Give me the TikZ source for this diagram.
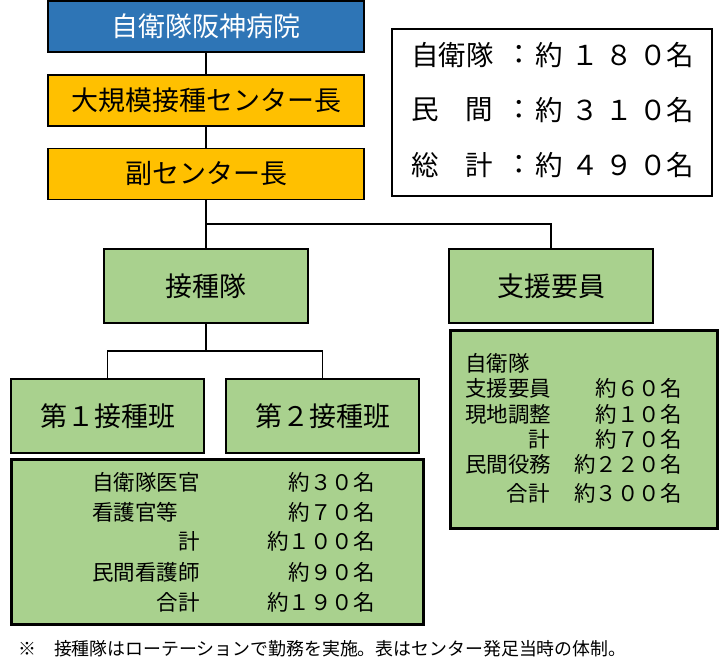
\documentclass[tikz,border=0pt]{standalone}
\usepackage{fontspec}
\setmainfont{Noto Sans CJK JP}
\definecolor{hblue}{HTML}{2E75B6}
\definecolor{horange}{HTML}{FFC000}
\definecolor{hgreen}{HTML}{A9D18E}
\tikzset{
  box/.style={draw=black, line width=1.5pt, inner sep=0pt, font=\fontsize{27}{32}\selectfont},
  bluebox/.style={box, fill=hblue, text=white, minimum width=316pt, minimum height=51pt},
  orangebox/.style={box, fill=horange, minimum width=316pt, minimum height=51pt},
  greenbox/.style={box, fill=hgreen},
  detbox/.style={draw=black, line width=3pt, fill=hgreen, inner sep=0pt},
  legbox/.style={draw=black, line width=1.5pt, fill=white, inner sep=0pt},
  conn/.style={draw=black, line width=1.8pt},
  det/.style={inner sep=0pt, font=\fontsize{21.5}{26}\selectfont},
  lg/.style={inner sep=0pt, font=\fontsize{27.5}{32}\selectfont},
  foot/.style={inner sep=0pt, font=\fontsize{17.9}{21}\selectfont},
}
\newcommand\legrow[6]{%
  \node[lg, anchor=west] (#1l) at (411,#2) {\makebox[82pt][l]{#3}};
  \node[lg] (#1c) at (519,#2) {：};
  \node[lg] (#1y) at (549,#2) {約};
  \node[lg] (#1a) at (585,#2) {#4};
  \node[lg] (#1b) at (619,#2) {#5};
  \node[lg] (#1d) at (653,#2) {#6};
  \node[lg] (#1n) at (680,#2) {名};
}
\begin{document}
\begin{tikzpicture}[x=1pt, y=-1pt]
\useasboundingbox (0,0) rectangle (719,671);

% hierarchy boxes
\node[bluebox] (hosp) at (206,26.5) {自衛隊阪神病院};
\node[orangebox] (ctr) at (206,100.5) {大規模接種センター長};
\node[orangebox] (vice) at (206,174) {副センター長};
\node[greenbox, minimum width=204pt, minimum height=74pt] (team) at (206,286) {接種隊};
\node[greenbox, minimum width=204pt, minimum height=74pt] (sup) at (551,286) {支援要員};
\node[greenbox, minimum width=193pt, minimum height=74pt] (g1) at (107.5,416) {第１接種班};
\node[greenbox, minimum width=193pt, minimum height=74pt] (g2) at (322.5,416) {第２接種班};

% connectors
\coordinate (j1) at (206,224);
\coordinate (j2) at (206,351);
\draw[conn] (hosp.south) -- (ctr.north);
\draw[conn] (ctr.south) -- (vice.north);
\draw[conn] (vice.south) -- (j1) -- (team.north);
\draw[conn] (j1) -| (sup.north);
\draw[conn] (team.south) -- (j2);
\draw[conn] (j2) -| (g1.north);
\draw[conn] (j2) -| (g2.north);

% legend
\node[legbox, minimum width=320pt, minimum height=167pt] (leg) at (552,112.5) {};
\legrow{la}{55}{自衛隊}{１}{８}{０}
\legrow{lb}{110}{民\hfill 間}{３}{１}{０}
\legrow{lc}{165}{総\hfill 計}{４}{９}{０}

% detail box: vaccination team
\node[detbox, minimum width=412pt, minimum height=165pt] (det1) at (217,541.5) {};
\node[det, anchor=west] (d1a) at (92,482) {自衛隊医官};
\node[det, anchor=west] (d1b) at (92,512) {看護官等};
\node[det, anchor=east] (d1c) at (200,541) {計};
\node[det, anchor=west] (d1d) at (92,572) {民間看護師};
\node[det, anchor=east] (d1e) at (200,602) {合計};
\node[det, anchor=east] (v1a) at (375,482) {約３０名};
\node[det, anchor=east] (v1b) at (375,512) {約７０名};
\node[det, anchor=east] (v1c) at (375,541) {約１００名};
\node[det, anchor=east] (v1d) at (375,572) {約９０名};
\node[det, anchor=east] (v1e) at (375,602) {約１９０名};

% detail box: support staff
\node[detbox, minimum width=267pt, minimum height=198pt] (det2) at (583.5,429) {};
\node[det, anchor=west] (d2a) at (465,363) {自衛隊};
\node[det, anchor=west] (d2b) at (465,388) {支援要員};
\node[det, anchor=west] (d2c) at (465,414) {現地調整};
\node[det, anchor=east] (d2d) at (550,439) {計};
\node[det, anchor=west] (d2e) at (465,464) {民間役務};
\node[det, anchor=east] (d2f) at (550,493) {合計};
\node[det, anchor=east] (v2b) at (682,388) {約６０名};
\node[det, anchor=east] (v2c) at (682,414) {約１０名};
\node[det, anchor=east] (v2d) at (682,439) {約７０名};
\node[det, anchor=east] (v2e) at (682,464) {約２２０名};
\node[det, anchor=east] (v2f) at (682,493) {約３００名};

% footnote
\node[foot, anchor=west] (note) at (18,649) {※　接種隊はローテーションで勤務を実施。表はセンター発足当時の体制。};
\end{tikzpicture}
\end{document}
